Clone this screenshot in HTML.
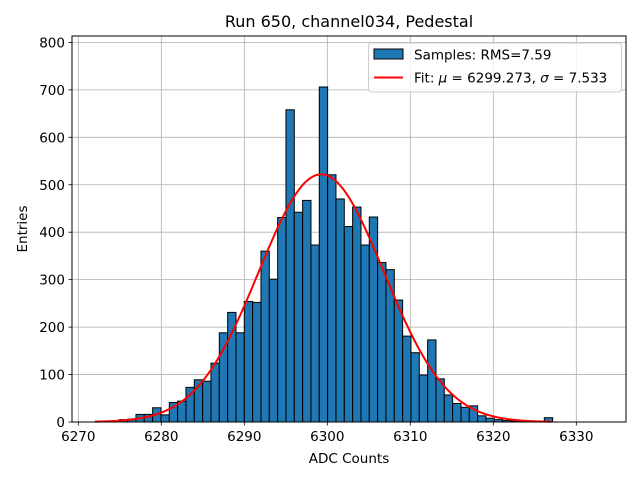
<!DOCTYPE html>
<html><head><meta charset="utf-8"><style>
body{margin:0;background:#fff;}
svg{display:block;font-family:"DejaVu Sans","Liberation Sans",sans-serif;}
</style></head><body>
<svg id="chart" width="640" height="480" viewBox="0 0 640 480" xmlns="http://www.w3.org/2000/svg">
<rect width="640" height="480" fill="#fff"/>
<text x="349" y="27" font-size="16" text-anchor="middle">Run 650, channel034, Pedestal</text>
<g id="grid"></g>
<g id="bars"></g>
<path id="fit" fill="none" stroke="#ff0000" stroke-width="2"/>
<rect x="72" y="36" width="554" height="386" fill="none" stroke="#000" stroke-width="1"/>
<g id="ticks"></g>
<text x="349" y="463" font-size="13.5" text-anchor="middle">ADC Counts</text>
<text x="27" y="229" font-size="13.5" text-anchor="middle" transform="rotate(-90 27 229)">Entries</text>
<g>
<rect x="368.5" y="43" width="253" height="49" rx="3" fill="#fff" fill-opacity="0.8" stroke="#ccc" stroke-width="1"/>
<rect x="374" y="49" width="29" height="10" fill="#1f77b4" stroke="#000" stroke-width="1"/>
<text x="414" y="59.5" font-size="13.5">Samples: RMS=7.59</text>
<line x1="374" y1="77.5" x2="403" y2="77.5" stroke="#ff0000" stroke-width="2"/>
<text x="414" y="82.5" font-size="13.5">Fit: <tspan font-style="italic">μ</tspan> = 6299.273, <tspan font-style="italic">σ</tspan> = 7.533</text>
</g>
</svg>
<script>
const binStarts = [6275,6276,6277,6278,6279,6280,6281,6282,6283,6284,6285,6286,6287,6288,6289,6290,6291,6292,6293,6294,6295,6296,6297,6298,6299,6300,6301,6302,6303,6304,6305,6306,6307,6308,6309,6310,6311,6312,6313,6314,6315,6316,6317,6318,6319,6320,6321,6322,6323,6324,6325,6326];
const counts = [5,6,16,16,30,15,41,44,73,89,86,124,188,231,188,254,252,360,301,431,658,442,467,373,706,521,470,412,453,373,432,336,321,257,181,146,99,173,91,57,39,31,34,13,8,5,3,2,1,1,0,9];
const binWidth = 1.004;
const fitMu = 6299.273, fitSigma = 7.533, fitPeak = 522, fitRange = [6272, 6327];
const xTicks = [6270,6280,6290,6300,6310,6320,6330];
const yTicks = [0,100,200,300,400,500,600,700,800];
const NS = "http://www.w3.org/2000/svg";
const X = u => 244.3 + (u - 6290) * 8.3;
const Y = v => 422 - v * 0.4745;
function mk(tag, attrs, parent){const e=document.createElementNS(NS,tag);for(const k in attrs)e.setAttribute(k,attrs[k]);parent.appendChild(e);return e;}
const grid=document.getElementById('grid'), bars=document.getElementById('bars'), ticks=document.getElementById('ticks');
xTicks.forEach(t=>{
  const x=X(t);
  const g=mk('line',{x1:x,x2:x,y1:36,y2:422,stroke:'#b0b0b0','stroke-width':0.8},grid);
  
  
  const tk=mk('line',{x1:x,x2:x,y1:422,y2:425.5,stroke:'#000','stroke-width':0.8},ticks);
  
  
  const l=mk('text',{x:x,y:441,'font-size':13.5,'text-anchor':'middle'},ticks);
  l.textContent=t;
  
  
});
yTicks.forEach(t=>{
  const y=Y(t);
  const g=mk('line',{x1:72,x2:626,y1:y,y2:y,stroke:'#b0b0b0','stroke-width':0.8},grid);
  
  
  const tk=mk('line',{x1:68.5,x2:72,y1:y,y2:y,stroke:'#000','stroke-width':0.8},ticks);
  
  
  const l=mk('text',{x:65,y:y+5,'font-size':13.5,'text-anchor':'end'},ticks);
  l.textContent=t;
  
  
});
binStarts.forEach((b,i)=>{
  if(counts[i]<=0) return;
  const x0=X(6290+(b-6290)*binWidth), x1=X(6290+(b+1-6290)*binWidth);
  const r=mk('rect',{x:x0,y:Y(counts[i]),width:x1-x0,height:422-Y(counts[i]),fill:'#1f77b4',stroke:'#000','stroke-width':1},bars);
  
  
});
let d='';
for(let k=0;k<=220;k++){
  const u=fitRange[0]+(fitRange[1]-fitRange[0])*k/220;
  const v=fitPeak*Math.exp(-0.5*Math.pow((u-fitMu)/fitSigma,2));
  d+=(k?'L':'M')+X(u).toFixed(2)+','+Y(v).toFixed(2);
}
document.getElementById('fit').setAttribute('d',d);
</script>
</body></html>
